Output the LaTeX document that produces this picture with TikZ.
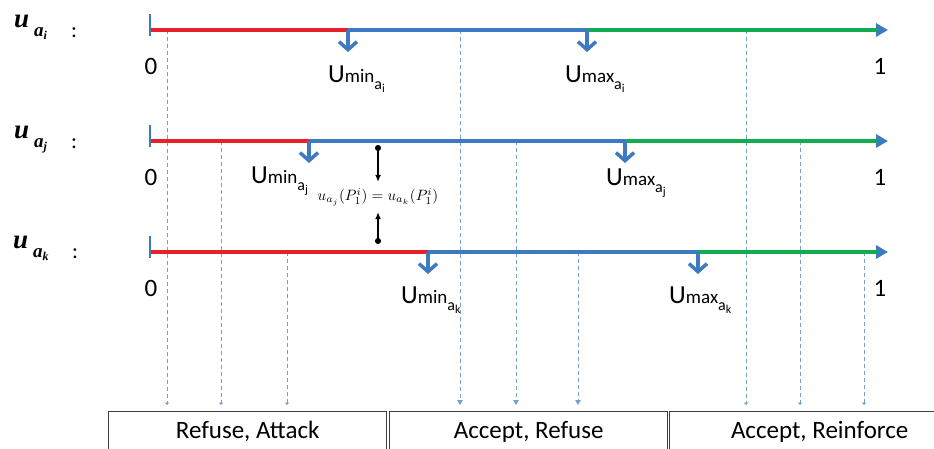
\documentclass[tikz,border=0pt]{standalone}
\usepackage{fontspec}
\usepackage{graphicx}
\setmainfont{Carlito}
\newfontfamily\labfont{Liberation Serif}
\usetikzlibrary{arrows.meta}

\definecolor{lineblue}{RGB}{61,122,194}
\definecolor{linered}{RGB}{232,32,40}
\definecolor{linegreen}{RGB}{18,172,80}
\definecolor{dashblue}{RGB}{118,158,208}

%% u_{a_x} label on the left
\newcommand{\ulab}[1]{{\labfont\bfseries\itshape\fontsize{27}{27}\selectfont u}\hspace{5pt}%
  \raisebox{-9pt}{\labfont\bfseries\itshape\fontsize{19}{19}\selectfont a\raisebox{-3pt}{\fontsize{12}{12}\selectfont #1}}}
%% U_min / U_max label
\newcommand{\ulim}[2]{{\fontsize{26}{26}\selectfont U}{\fontsize{19}{19}\selectfont #1\raisebox{-7pt}{\fontsize{16}{16}\selectfont a\raisebox{-3pt}{\fontsize{12}{12}\selectfont #2}}}}

\begin{document}
\begin{tikzpicture}[x=1pt,y=-1pt,
    axis/.style={line width=4pt},
    feed/.style={dashblue,line width=1pt,dash pattern=on 4pt off 3pt,shorten >=6pt},
    limlab/.style={anchor=base west,inner sep=0pt},
    numlab/.style={anchor=base,font=\fontsize{25}{25}\selectfont},
    outbox/.style={draw=black!75,line width=1.3pt,minimum height=40pt,anchor=north west,
        font=\fontsize{25}{25}\selectfont}]
    \useasboundingbox (0,0) rectangle (934,448);
    \clip (0,0) rectangle (934,448);
    %% outcome boxes
    \node[outbox,minimum width=278pt] (ra) at (108,411) {Refuse, Attack};
    \node[outbox,minimum width=278pt] (ar) at (389,411) {Accept, Refuse};
    \node[outbox,minimum width=300pt] (ai) at (669,411) {Accept, Reinforce};
    %% feeds into the boxes
    \foreach \x/\y/\b/\tl/\tw in {167/30/ra/2.5/4.5,221/141/ra/2.5/4.5,287/252/ra/2.5/4.5,
        460/30/ar/5/5.5,516/141/ar/5/5.5,578/252/ar/5/5.5,
        746/30/ai/2.5/4.5,800/141/ai/2.5/4.5,864/252/ai/2.5/4.5} {
        \draw[feed,-{Triangle[length=\tl pt,width=\tw pt]}] (\x,\y) -- (\x,0 |- \b.north);
    }
    %% utility axes
    \foreach \n/\y/\lo/\hi in {i/30/348/587,j/141/309/625,k/252/428/698} {
        \coordinate (\n0) at (150,\y);
        \coordinate (\n1) at (888,\y);
        \coordinate (\n lo) at (\lo,\y);
        \coordinate (\n hi) at (\hi,\y);
        \coordinate (\n end) at (877,\y);
        \draw[axis,lineblue,-{Triangle[length=12pt,width=13pt]}] (\n0) -- (\n1);
        \draw[axis,linered] (\n0) -- (\n lo);
        \draw[axis,linegreen] (\n hi) -- (\n end);
        \draw[lineblue,line width=1.5pt] (\n0) ++(0,-16) -- ++(0,22);
        \draw[lineblue,line width=3.5pt,-{Straight Barb[length=8pt,width=18pt]}] (\n lo) -- ++(0,22);
        \draw[lineblue,line width=3.5pt,-{Straight Barb[length=8pt,width=18pt]}] (\n hi) -- ++(0,22);
        \path (\n0) ++(1,44) node[numlab] (\n zero) {0};
        \path (\n1) ++(-8,44) node[numlab] (\n one) {1};
    }
    %% left labels
    \node[anchor=base west,inner sep=0pt] (ui) at (14,27) {\ulab{i}};
    \node[anchor=base west,inner sep=0pt] (uj) at (14,138) {\ulab{j}};
    \node[anchor=base west,inner sep=0pt] (uk) at (13,248) {\ulab{k}};
    \node[anchor=base,font=\fontsize{22}{22}\selectfont] (ci) at (74,37) {:};
    \node[anchor=base,font=\fontsize{22}{22}\selectfont] (cj) at (74,148) {:};
    \node[anchor=base,font=\fontsize{22}{22}\selectfont] (ck) at (75,258) {:};
    %% U_min and U_max
    \node[limlab] (mini) at (328,82) {\ulim{min}{i}};
    \node[limlab] (maxi) at (565,82) {\ulim{max}{i}};
    \node[limlab] (minj) at (251,183) {\ulim{min}{j}};
    \node[limlab] (maxj) at (606,185) {\ulim{max}{j}};
    \node[limlab] (mink) at (401,303) {\ulim{min}{k}};
    \node[limlab] (maxk) at (669,303) {\ulim{max}{k}};
    %% equal utilities
    \coordinate (dj) at (378,145);
    \coordinate (dk) at (378,244);
    \node[minimum height=30pt,inner sep=0pt] (eq) at (378,197)
        {\scalebox{1.5}{$u_{a_j}(P_1^i)=u_{a_k}(P_1^i)$}};
    \draw[line width=1.2pt,{Circle[length=6pt]}-{Latex[length=7pt,width=6pt]}] (dj) -- (eq.north);
    \draw[line width=1.2pt,{Circle[length=6pt]}-{Latex[length=7pt,width=6pt]}] (dk) -- (eq.south);
\end{tikzpicture}
\end{document}
